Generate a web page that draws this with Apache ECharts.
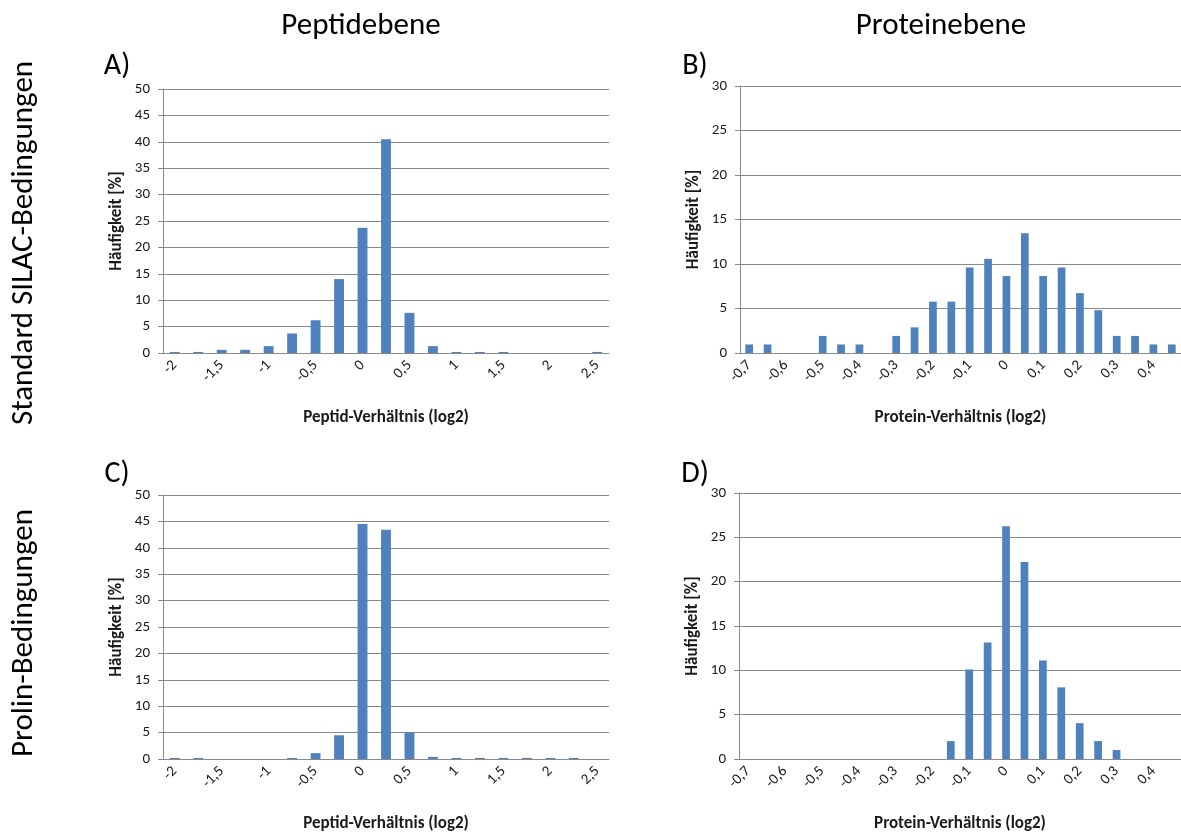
<!DOCTYPE html>
<html>
<head>
<meta charset="utf-8">
<script src="https://cdn.jsdelivr.net/npm/echarts@6/dist/echarts.min.js"></script>
<style>
html,body{margin:0;padding:0;background:#fff;}
#c{width:1181px;height:834px;}
</style>
</head>
<body>
<div id="c"></div>
<script>
// Categories (bin labels)
const catsPeptid = ['-2','-1,75','-1,5','-1,25','-1','-0,75','-0,5','-0,25','0','0,25','0,5','0,75','1','1,25','1,5','1,75','2','2,25','2,5'];
const catsProtein = ['-0,7','-0,65','-0,6','-0,55','-0,5','-0,45','-0,4','-0,35','-0,3','-0,25','-0,2','-0,15','-0,1','-0,05','0','0,05','0,1','0,15','0,2','0,25','0,3','0,35','0,4','0,45'];

// Values (%)
const valuesA = [0.2,0.2,0.6,0.6,1.3,3.7,6.2,14.0,23.7,40.5,7.6,1.3,0.2,0.2,0.2,0,0,0,0.2];
const valuesB = [0.96,0.96,0,0,1.92,0.96,0.96,0,1.92,2.88,5.77,5.77,9.62,10.58,8.65,13.46,8.65,9.62,6.73,4.81,1.92,1.92,0.96,0.96];
const valuesC = [0.2,0.2,0,0,0,0.2,1.1,4.5,44.5,43.4,5.0,0.4,0.2,0.2,0.2,0.2,0.2,0.2,0];
const valuesD = [0,0,0,0,0,0,0,0,0,0,0,2.02,10.1,13.13,26.26,22.22,11.11,8.08,4.04,2.02,1.01,0,0,0];

const yTitle = 'Häufigkeit [%]';
const xTitlePeptid = 'Peptid-Verhältnis (log2)';
const xTitleProtein = 'Protein-Verhältnis (log2)';

const FONT = 'Carlito, Calibri, Lato, sans-serif';
const AX = '#8a8a8a';
const BAR = '#4f81bd';

const grids = [
  {left:163, top:89, width:446, height:264},
  {left:740, top:86, width:441, height:267},
  {left:163, top:495, width:446, height:264},
  {left:739, top:493, width:442, height:266}
];

function xAxis(i, cats, name){
  return {
    type:'category', gridIndex:i, data:cats,
    name:name, nameLocation:'middle', nameGap:56,
    nameTextStyle:{fontFamily:FONT, fontWeight:'bold', fontSize:17, color:'#1a1a1a'},
    axisLine:{lineStyle:{color:AX, width:1}},
    axisTick:{interval:0, length:5, lineStyle:{color:AX}},
    axisLabel:{interval:1, rotate:45, margin:10, fontFamily:FONT, fontSize:15, color:'#1a1a1a'},
    splitLine:{show:false}
  };
}
function yAxis(i, max){
  return {
    type:'value', gridIndex:i, min:0, max:max, interval:5,
    name:yTitle, nameLocation:'middle', nameGap:38,
    nameTextStyle:{fontFamily:FONT, fontWeight:'bold', fontSize:17, color:'#1a1a1a'},
    axisLine:{show:true, lineStyle:{color:AX, width:1}},
    axisTick:{show:true, length:5, lineStyle:{color:AX}},
    axisLabel:{margin:13, fontFamily:FONT, fontSize:15, color:'#1a1a1a'},
    splitLine:{show:true, lineStyle:{color:AX, width:1}}
  };
}
function series(i, vals){
  return {type:'bar', xAxisIndex:i, yAxisIndex:i, data:vals, barCategoryGap:'58%',
    itemStyle:{color:BAR, borderWidth:0}, silent:true, animation:false};
}

const chart = echarts.init(document.getElementById('c'), null, {renderer:'canvas'});
chart.setOption({
  animation:false,
  backgroundColor:'#fff',
  grid:grids,
  xAxis:[xAxis(0,catsPeptid,xTitlePeptid), xAxis(1,catsProtein,xTitleProtein), xAxis(2,catsPeptid,xTitlePeptid), xAxis(3,catsProtein,xTitleProtein)],
  yAxis:[yAxis(0,50), yAxis(1,30), yAxis(2,50), yAxis(3,30)],
  series:[series(0,valuesA), series(1,valuesB), series(2,valuesC), series(3,valuesD)],
  graphic:[
    {type:'text', x:361, y:26, style:{text:'Peptidebene', font:'31px '+FONT, fill:'#000', textAlign:'center', textVerticalAlign:'middle'}},
    {type:'text', x:941, y:26, style:{text:'Proteinebene', font:'31px '+FONT, fill:'#000', textAlign:'center', textVerticalAlign:'middle'}},
    {type:'text', x:24, y:243, rotation:Math.PI/2, style:{text:'Standard SILAC-Bedingungen', font:'31px '+FONT, fill:'#000', textAlign:'center', textVerticalAlign:'middle'}},
    {type:'text', x:24, y:633, rotation:Math.PI/2, style:{text:'Prolin-Bedingungen', font:'31px '+FONT, fill:'#000', textAlign:'center', textVerticalAlign:'middle'}},
    {type:'text', x:117, y:66, style:{text:'A)', font:'30px '+FONT, fill:'#000', textAlign:'center', textVerticalAlign:'middle'}},
    {type:'text', x:695, y:66, style:{text:'B)', font:'30px '+FONT, fill:'#000', textAlign:'center', textVerticalAlign:'middle'}},
    {type:'text', x:117, y:474, style:{text:'C)', font:'30px '+FONT, fill:'#000', textAlign:'center', textVerticalAlign:'middle'}},
    {type:'text', x:695, y:474, style:{text:'D)', font:'30px '+FONT, fill:'#000', textAlign:'center', textVerticalAlign:'middle'}}
  ]
});
</script>
</body>
</html>
